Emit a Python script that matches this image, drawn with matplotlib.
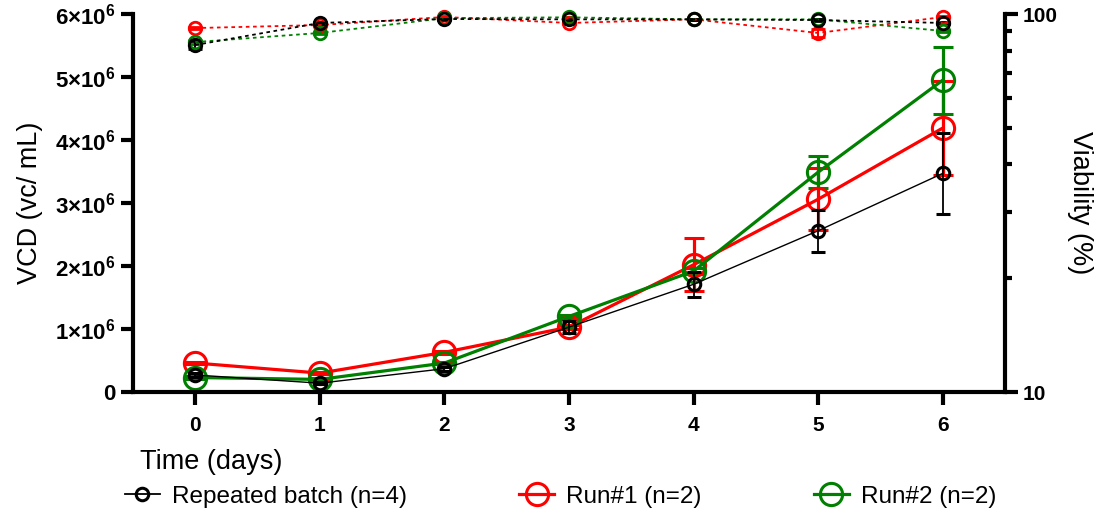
import matplotlib.pyplot as plt
from matplotlib.lines import Line2D

plt.rcParams['font.family'] = ['Liberation Sans', 'DejaVu Sans']
plt.rcParams['mathtext.fontset'] = 'custom'
plt.rcParams['mathtext.rm'] = 'Liberation Sans'
plt.rcParams['mathtext.bf'] = 'Liberation Sans:bold'

days = [0, 1, 2, 3, 4, 5, 6]

# VCD (viable cells / mL)
vcd_batch = [0.27e6, 0.14e6, 0.37e6, 1.03e6, 1.71e6, 2.56e6, 3.47e6]
vcd_batch_err = [0.03e6, 0.02e6, 0.03e6, 0.10e6, 0.20e6, 0.33e6, 0.64e6]
vcd_run1 = [0.46e6, 0.30e6, 0.63e6, 1.03e6, 2.02e6, 3.06e6, 4.19e6]
vcd_run1_err = [0.02e6, 0.02e6, 0.02e6, 0.03e6, 0.42e6, 0.49e6, 0.75e6]
vcd_run2 = [0.23e6, 0.20e6, 0.46e6, 1.20e6, 1.92e6, 3.49e6, 4.95e6]
vcd_run2_err = [0.02e6, 0.02e6, 0.02e6, 0.03e6, 0.05e6, 0.25e6, 0.53e6]

# viability (%)
via_batch = [82.8, 94.7, 97.0, 96.8, 96.8, 96.4, 94.7]
via_batch_err = [2.0, 0.5, 0.3, 0.3, 0.3, 0.4, 0.5]
via_run1 = [91.8, 93.5, 98.2, 94.7, 96.8, 89.1, 98.2]
via_run1_err = [0.5, 0.5, 0.3, 0.5, 0.3, 2.0, 0.3]
via_run2 = [84.3, 89.1, 97.5, 98.0, 96.8, 96.8, 90.2]
via_run2_err = [0.8, 0.5, 0.3, 0.3, 0.3, 0.3, 0.5]

labels = ['Repeated batch (n=4)', 'Run#1 (n=2)', 'Run#2 (n=2)']
vcd_ticks = [0, 1e6, 2e6, 3e6, 4e6, 5e6, 6e6]
vcd_ticklabels = ['0'] + [r'$\mathbf{%d{\times}10^{6}}$' % i for i in range(1, 7)]

fig = plt.figure(figsize=(11.02, 5.19), dpi=100)
ax = fig.add_axes([0.1207, 0.2447, 0.7913, 0.7283])
ax2 = ax.twinx()

# viability on the right (log) axis, dotted
for vals, errs, c in [(via_run1, via_run1_err, 'red'),
                      (via_run2, via_run2_err, 'green'),
                      (via_batch, via_batch_err, 'black')]:
    ax2.errorbar(days, vals, yerr=errs, color=c, linestyle=(0, (2, 2)), lw=1.3,
                 marker='o', ms=9, mfc='none', mew=2, capsize=5, capthick=1.5,
                 elinewidth=1.5, clip_on=False)

# VCD on the left axis
ax.errorbar(days, vcd_batch, yerr=vcd_batch_err, color='black', lw=1,
            marker='o', ms=9, mfc='none', mew=2.2, capsize=5, capthick=1.3,
            elinewidth=1.3, zorder=3, clip_on=False)
for vals, errs, c in [(vcd_run1, vcd_run1_err, 'red'),
                      (vcd_run2, vcd_run2_err, 'green')]:
    ax.errorbar(days, vals, yerr=errs, color=c, lw=2.3,
                marker='o', ms=16, mfc='none', mew=2.2, capsize=7,
                capthick=2.3, elinewidth=2.3, zorder=2, clip_on=False)

ax.set_xlim(-0.5, 6.5)
ax.set_ylim(0, 6e6)
ax.set_xticks(days)
ax.set_yticks(vcd_ticks)
ax.set_yticklabels(vcd_ticklabels)

ax2.set_yscale('log')
ax2.set_ylim(10, 100)
ax2.set_yticks([10, 100])
ax2.set_yticklabels(['10', '100'])

for a in (ax, ax2):
    a.spines['top'].set_visible(False)
    for s in ['left', 'bottom', 'right']:
        a.spines[s].set_linewidth(3)
    a.tick_params(width=3, length=9, labelsize=15, direction='out')
    a.tick_params(which='minor', width=3, length=5)
    for lab in a.get_xticklabels() + a.get_yticklabels():
        lab.set_fontweight('bold')
ax.spines['right'].set_visible(False)
ax2.spines['left'].set_visible(False)
ax2.spines['bottom'].set_visible(False)
ax.tick_params(axis='x', pad=8)
ax.tick_params(axis='y', labelsize=16)
ax2.yaxis.set_minor_formatter(plt.NullFormatter())

ax.set_ylabel('VCD (vc/ mL)', fontsize=19.5, labelpad=8.5)
ax2.set_ylabel('Viability (%)', fontsize=19.5, rotation=270, labelpad=26)
fig.text(140 / 1102, 1 - 462 / 519, 'Time (days)', fontsize=19.5, va='center', ha='left')

handles = [
    Line2D([], [], color='black', lw=1.3, marker='o', ms=9, mfc='none', mew=2.2),
    Line2D([], [], color='red', lw=2.3, marker='o', ms=16, mfc='none', mew=2.2),
    Line2D([], [], color='green', lw=2.3, marker='o', ms=16, mfc='none', mew=2.2),
]
fig.legend(handles, labels, loc='center left', bbox_to_anchor=(103 / 1102, 1 - 497 / 519),
           ncol=3, frameon=False, fontsize=17.5, columnspacing=4.6, handlelength=1.45,
           handletextpad=0.5)

fig.savefig('out.png', dpi=100)
